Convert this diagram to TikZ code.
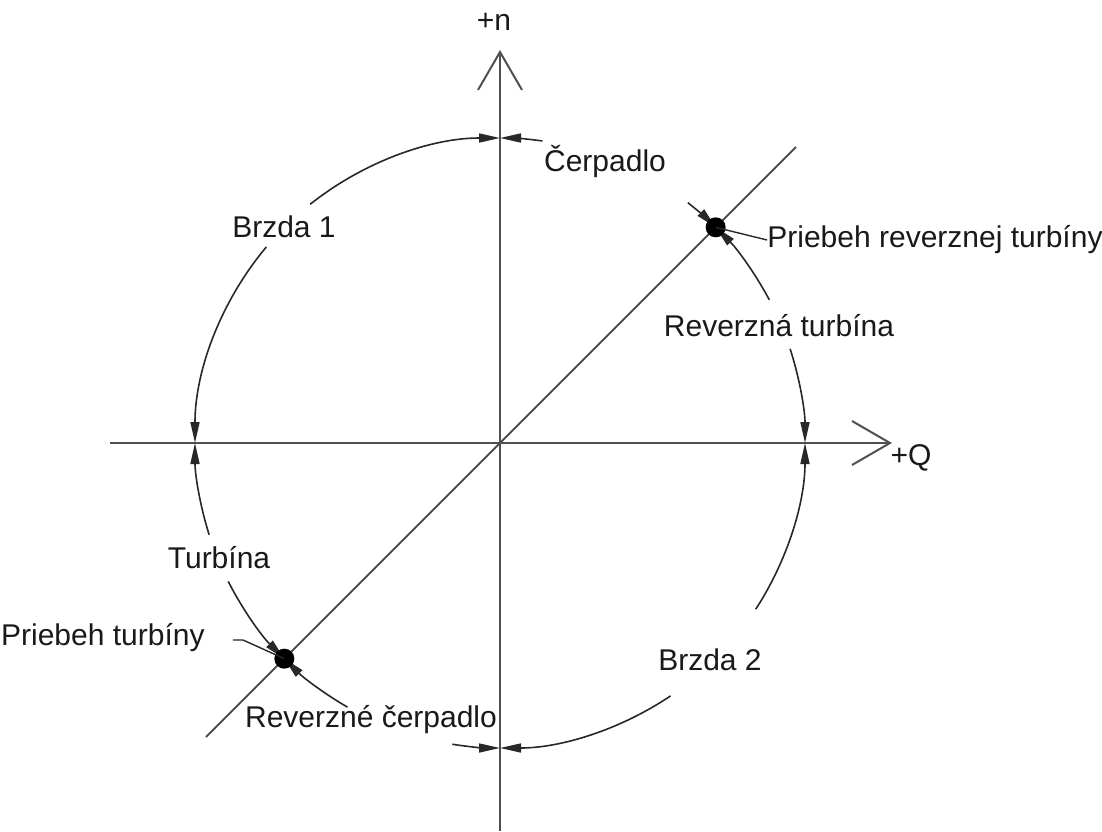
\documentclass[tikz,border=0pt]{standalone}
\usepackage{fontspec}
\setmainfont{Liberation Sans}
\usepackage{tikz}
\usetikzlibrary{arrows.meta,positioning}
\definecolor{axgray}{RGB}{80,80,80}
\definecolor{ringblk}{RGB}{40,40,40}

\begin{document}
\begin{tikzpicture}[x=0.5pt, y=0.5pt,
  axis/.style={line width=1pt, draw=axgray, -{Straight Barb[length=19pt,width=22pt]}},
  diag/.style={line width=1pt, draw=axgray},
  ring/.style={line width=0.8pt, draw=ringblk},
  ringin/.style={ring, {Triangle[length=10.5pt,width=4.5pt]}-},
  ringout/.style={ring, -{Triangle[length=10.5pt,width=4.5pt]}},
  dot/.style={circle, fill=black, minimum size=10pt, inner sep=0pt},
  lbl/.style={font=\fontsize{15}{18}\selectfont, inner sep=0pt, text=black!90},
  leader/.style={line width=0.7pt, draw=ringblk}
]
\useasboundingbox (-500,-388) rectangle (602,443);

% key points on the ring
\coordinate (top) at (90:305);
\coordinate (right) at (0:305);
\coordinate (bottom) at (-90:305);
\coordinate (left) at (180:305);
\coordinate (ne) at (45:305);
\coordinate (sw) at (225:305);

% axes and diagonal
\coordinate (xl) at (-390,0);
\coordinate (xr) at (392,0);
\coordinate (yb) at (0,-388);
\coordinate (yt) at (0,393);
\coordinate (dl) at (-294,-294);
\coordinate (du) at (296,296);
\draw[axis] (xl) -- (xr);
\draw[axis] (yb) -- (yt);
\draw[diag] (dl) -- (du);
\node[lbl] (nlab) at (-6,421) {+n};
\node[lbl] (qlab) at (411,-15) {+Q};

% ring segments, broken where the labels sit
\draw[ringin] (top) arc[start angle=90, end angle=82, radius=305];
\draw[ringout] (52:305) arc[start angle=52, end angle=45, radius=305];
\draw[ringin] (ne) arc[start angle=45, end angle=28, radius=305];
\draw[ringout] (18:305) arc[start angle=18, end angle=0, radius=305];
\draw[ringin] (right) arc[start angle=0, end angle=-33, radius=305];
\draw[ringout] (-56:305) arc[start angle=-56, end angle=-90, radius=305];
\draw[ringin] (bottom) arc[start angle=-90, end angle=-99, radius=305];
\draw[ringout] (-120:305) arc[start angle=-120, end angle=-135, radius=305];
\draw[ringin] (sw) arc[start angle=225, end angle=207, radius=305];
\draw[ringout] (197.5:305) arc[start angle=197.5, end angle=180, radius=305];
\draw[ringin] (left) arc[start angle=180, end angle=140, radius=305];
\draw[ringout] (128.5:305) arc[start angle=128.5, end angle=90, radius=305];

% operating points
\node[dot] (nedot) at (ne) {};
\node[dot] (swdot) at (sw) {};

% labels
\node[lbl] (cerp) at (105,281) {Čerpadlo};
\node[lbl] (revturb) at (279,117) {Reverzná turbína};
\node[lbl] (brzda2) at (210,-217) {Brzda 2};
\node[lbl] (revcerp) at (-129,-277) {Reverzné čerpadlo};
\node[lbl] (turb) at (-281,-115) {Turbína};
\node[lbl] (brzda1) at (-216,216) {Brzda 1};

\node[lbl, anchor=west] (prevt) at (267,203) {Priebeh reverznej turbíny};
\draw[leader] (nedot.center) -- (prevt.west);

\node[lbl, anchor=east] (pturb) at (-295,-195) {Priebeh turbíny};
\coordinate (ptl) at (-267,-197);
\draw[leader] (ptl) -- ++(10,0) -- (swdot.center);
\end{tikzpicture}
\end{document}
